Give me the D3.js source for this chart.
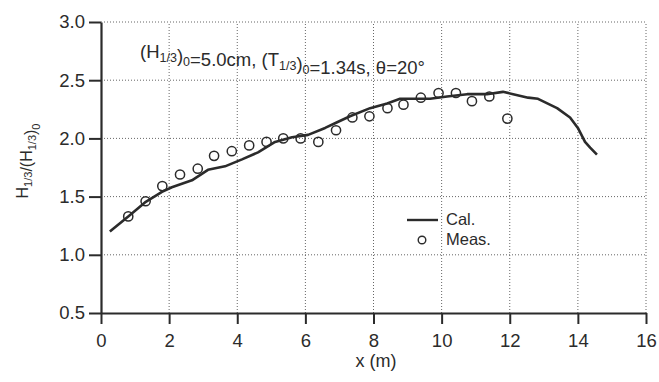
<!DOCTYPE html>
<html>
<head>
<meta charset="utf-8">
<script src="https://cdn.jsdelivr.net/npm/d3@7"></script>
<style>
  body { margin: 0; background: #fff; }
  svg { display: block; font-family: "Liberation Sans", Arial, Helvetica, sans-serif; }
</style>
</head>
<body>
<div id="chart"></div>
<script>
// calculated curve (Cal.)
const calX = [0.26, 0.8, 1.29, 1.79, 2.08, 2.67, 3.14, 3.64, 4.14, 4.61, 5.11, 5.61, 6.08, 6.58, 6.87, 7.31, 7.9, 8.4, 8.78, 9.66, 10.16, 10.75, 11.33, 11.8, 12.1, 12.54, 12.83, 13.39, 13.77, 14.0, 14.21, 14.36, 14.56];
const calY = [1.20, 1.33, 1.45, 1.54, 1.58, 1.64, 1.73, 1.76, 1.82, 1.88, 1.97, 2.01, 2.03, 2.09, 2.13, 2.19, 2.26, 2.30, 2.34, 2.34, 2.36, 2.38, 2.38, 2.40, 2.38, 2.35, 2.34, 2.26, 2.18, 2.09, 1.97, 1.92, 1.86];

// measured points (Meas.)
const measX = [0.80, 1.31, 1.80, 2.32, 2.84, 3.32, 3.84, 4.35, 4.86, 5.35, 5.86, 6.38, 6.90, 7.38, 7.88, 8.41, 8.88, 9.39, 9.91, 10.42, 10.89, 11.40, 11.93];
const measY = [1.33, 1.46, 1.59, 1.69, 1.74, 1.85, 1.89, 1.94, 1.97, 2.00, 2.00, 1.97, 2.07, 2.18, 2.19, 2.26, 2.29, 2.35, 2.39, 2.39, 2.32, 2.36, 2.17];

const xTicks = [0, 2, 4, 6, 8, 10, 12, 14, 16];
const yTicks = [0.5, 1.0, 1.5, 2.0, 2.5, 3.0];

const width = 659, height = 382;
const ink = "#2b2b2b";

const svg = d3.select("#chart").append("svg")
  .attr("width", width)
  .attr("height", height);

const x = d3.scaleLinear().domain([0, 16]).range([101, 646]);
const y = d3.scaleLinear().domain([0.5, 3.0]).range([313, 22]);

// dotted grid
const grid = svg.append("g")
  .attr("stroke", "#666")
  .attr("stroke-width", 1)
  .attr("stroke-dasharray", "1,2");

grid.selectAll("line.v")
  .data(xTicks.filter(d => d > 0))
  .join("line")
  .attr("class", "v")
  .attr("x1", d => x(d)).attr("x2", d => x(d))
  .attr("y1", y(0.5)).attr("y2", y(3.0));

grid.selectAll("line.h")
  .data(yTicks.filter(d => d > 0.5))
  .join("line")
  .attr("class", "h")
  .attr("x1", x(0)).attr("x2", x(16))
  .attr("y1", d => y(d)).attr("y2", d => y(d));

// axes
const yAxis = svg.append("g")
  .attr("transform", `translate(${x(0)},0)`)
  .call(d3.axisLeft(y).tickValues(yTicks).tickFormat(d3.format(".1f")).tickSize(12).tickSizeOuter(0).tickPadding(4));

const xAxis = svg.append("g")
  .attr("transform", `translate(0,${y(0.5)})`)
  .call(d3.axisBottom(x).tickValues(xTicks).tickSize(11).tickSizeOuter(0).tickPadding(10));

[xAxis, yAxis].forEach(a => {
  a.select(".domain").attr("stroke", ink).attr("stroke-width", 2.2);
  a.selectAll(".tick line").attr("stroke", ink).attr("stroke-width", 2);
  a.selectAll(".tick text")
    .attr("fill", ink)
    .style("font-size", "18.5px")
    .style("font-family", "'Liberation Sans', Arial, sans-serif");
});

// Cal. line
const calData = calX.map((d, i) => [d, calY[i]]);
svg.append("path")
  .datum(calData)
  .attr("fill", "none")
  .attr("stroke", ink)
  .attr("stroke-width", 2.6)
  .attr("stroke-linejoin", "round")
  .attr("d", d3.line().x(d => x(d[0])).y(d => y(d[1])));

// Meas. circles
svg.append("g")
  .selectAll("circle")
  .data(measX.map((d, i) => [d, measY[i]]))
  .join("circle")
  .attr("cx", d => x(d[0]))
  .attr("cy", d => y(d[1]))
  .attr("r", 4.6)
  .attr("fill", "none")
  .attr("stroke", ink)
  .attr("stroke-width", 1.5);

// text with subscripts
function sub(t, subSize, parts) {
  parts.forEach(p => {
    if (p.s) {
      t.append("tspan").attr("dy", 4).style("font-size", subSize).text(p.s);
      t.append("tspan").attr("dy", -4).text("");
    } else {
      t.append("tspan").text(p.t);
    }
  });
}

// annotation
const note = svg.append("text")
  .attr("x", 140).attr("y", 58)
  .attr("fill", ink)
  .style("font-size", "18.5px");
sub(note, "12.5px", [
  {t: "(H"}, {s: "1/3"}, {t: ")"}, {s: "0"}, {t: "=5.0cm, (T"}, {s: "1/3"}, {t: ")"}, {s: "0"}, {t: "=1.34s, θ=20°"}
]);

// legend
svg.append("line")
  .attr("x1", 407).attr("x2", 438)
  .attr("y1", 220).attr("y2", 220)
  .attr("stroke", ink).attr("stroke-width", 2.4);
svg.append("text")
  .attr("x", 446).attr("y", 225)
  .attr("fill", ink).style("font-size", "16.5px")
  .text("Cal.");
svg.append("circle")
  .attr("cx", 422).attr("cy", 240).attr("r", 3.8)
  .attr("fill", "none").attr("stroke", ink).attr("stroke-width", 1.4);
svg.append("text")
  .attr("x", 446).attr("y", 245)
  .attr("fill", ink).style("font-size", "16.5px")
  .text("Meas.");

// axis titles
svg.append("text")
  .attr("x", 376).attr("y", 367)
  .attr("text-anchor", "middle")
  .attr("fill", ink).style("font-size", "18px")
  .text("x (m)");

const yl = svg.append("text")
  .attr("transform", "translate(28,161) rotate(-90)")
  .attr("text-anchor", "middle")
  .attr("fill", ink).style("font-size", "16px");
sub(yl, "11px", [{t: "H"}, {s: "1/3"}, {t: "/(H"}, {s: "1/3"}, {t: ")"}, {s: "0"}]);
</script>
</body>
</html>
